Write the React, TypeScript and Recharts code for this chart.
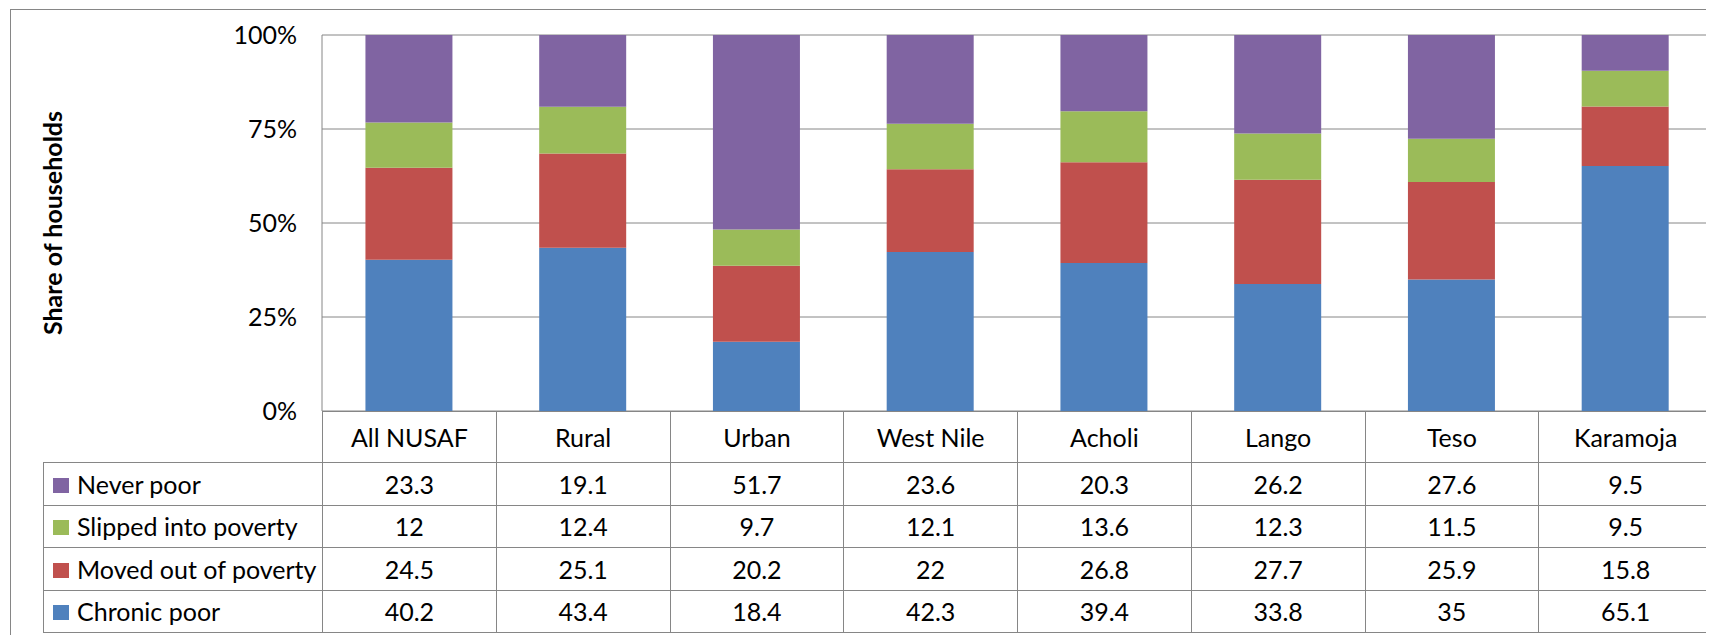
import { Bar, BarChart, CartesianGrid, XAxis, YAxis } from 'recharts'

const categories = ['All NUSAF', 'Rural', 'Urban', 'West Nile', 'Acholi', 'Lango', 'Teso', 'Karamoja']
const chronicPoor = [40.2, 43.4, 18.4, 42.3, 39.4, 33.8, 35, 65.1]
const movedOut = [24.5, 25.1, 20.2, 22, 26.8, 27.7, 25.9, 15.8]
const slipped = [12, 12.4, 9.7, 12.1, 13.6, 12.3, 11.5, 9.5]
const neverPoor = [23.3, 19.1, 51.7, 23.6, 20.3, 26.2, 27.6, 9.5]
// 100% stacked: shares of the column total
const yTicks = [0, 0.25, 0.5, 0.75, 1]

const series = [
  { key: 'chronic', name: 'Chronic poor', values: chronicPoor, color: '#4F81BD' },
  { key: 'moved', name: 'Moved out of poverty', values: movedOut, color: '#C0504D' },
  { key: 'slipped', name: 'Slipped into poverty', values: slipped, color: '#9BBB59' },
  { key: 'never', name: 'Never poor', values: neverPoor, color: '#8064A2' },
]

const data = categories.map((c, i) => {
  const row: Record<string, string | number> = { category: c }
  series.forEach((s) => {
    row[s.key] = s.values[i]
  })
  return row
})

const FONT = 'Lato, "Open Sans", sans-serif'
const GRID = '#868686'
const FS = 25

// chart plot area: page x 322..1712, y 35..411 (wrapper sits at 8,8)
const PLOT_LEFT = 314
const PLOT_RIGHT_PAD = 2
const PLOT_TOP = 27
const PLOT_BOTTOM = 403
const CHART_W = 1706
const COL_W = (CHART_W - PLOT_LEFT - PLOT_RIGHT_PAD) / categories.length
const LEGEND_COL_W = 279

const cell: React.CSSProperties = {
  border: `1px solid ${GRID}`,
  padding: 0,
  textAlign: 'center',
  verticalAlign: 'middle',
  whiteSpace: 'nowrap',
  overflow: 'hidden',
}

export default function App() {
  const tableRows = [...series].reverse()
  return (
    <div
      style={{
        position: 'relative',
        width: CHART_W,
        height: 627,
        overflow: 'hidden',
        fontFamily: FONT,
        background: '#fff',
      }}
    >
      <div
        style={{
          position: 'absolute',
          left: 2,
          top: 1,
          width: 3000,
          height: 3000,
          borderLeft: `1px solid ${GRID}`,
          borderTop: `1px solid ${GRID}`,
        }}
      />
      <div style={{ position: 'absolute', left: 0, top: 0 }}>
        <BarChart
          width={CHART_W}
          height={PLOT_BOTTOM + 24}
          data={data}
          stackOffset="expand"
          margin={{ top: PLOT_TOP, right: PLOT_RIGHT_PAD, left: 0, bottom: 24 }}
          barCategoryGap="25%"
        >
          <CartesianGrid vertical={false} stroke={GRID} strokeWidth={1} />
          <XAxis dataKey="category" hide />
          <YAxis
            width={PLOT_LEFT}
            domain={[0, 1]}
            ticks={yTicks}
            interval={0}
            allowDataOverflow
            tickFormatter={(v: number) => `${Math.round(v * 100)}%`}
            tick={{ fontSize: FS, fill: '#000', fontFamily: FONT }}
            tickSize={0}
            tickMargin={25}
            axisLine={{ stroke: GRID }}
            tickLine={false}
            label={{
              value: 'Share of households',
              angle: -90,
              position: 'insideLeft',
              offset: 45,
              style: { textAnchor: 'middle', fontSize: FS, fontWeight: 700, fill: '#000', fontFamily: FONT },
            }}
          />
          {series.map((s) => (
            <Bar
              key={s.key}
              dataKey={s.key}
              name={s.name}
              stackId="a"
              fill={s.color}
              isAnimationActive={false}
            />
          ))}
        </BarChart>
      </div>
      <table
        style={{
          position: 'absolute',
          left: PLOT_LEFT - LEGEND_COL_W,
          top: PLOT_BOTTOM,
          borderCollapse: 'collapse',
          tableLayout: 'fixed',
          width: LEGEND_COL_W + COL_W * categories.length,
          fontSize: FS,
          fontFamily: FONT,
          color: '#000',
        }}
      >
        <colgroup>
          <col style={{ width: LEGEND_COL_W }} />
          {categories.map((c) => (
            <col key={c} style={{ width: COL_W }} />
          ))}
        </colgroup>
        <tbody>
          <tr style={{ height: 51 }}>
            <td style={{ ...cell, borderTop: 'none', borderLeft: 'none' }} />
            {categories.map((c) => (
              <td key={c} style={cell}>
                {c}
              </td>
            ))}
          </tr>
          {tableRows.map((s) => (
            <tr key={s.key} style={{ height: 42.5 }}>
              <td style={{ ...cell, textAlign: 'left' }}>
                <span
                  style={{
                    display: 'inline-block',
                    width: 16,
                    height: 15,
                    background: s.color,
                    marginLeft: 9,
                    marginRight: 8,
                    verticalAlign: 'middle',
                    position: 'relative',
                    top: -2,
                  }}
                />
                {s.name}
              </td>
              {s.values.map((v, i) => (
                <td key={categories[i]} style={cell}>
                  {v}
                </td>
              ))}
            </tr>
          ))}
        </tbody>
      </table>
    </div>
  )
}
